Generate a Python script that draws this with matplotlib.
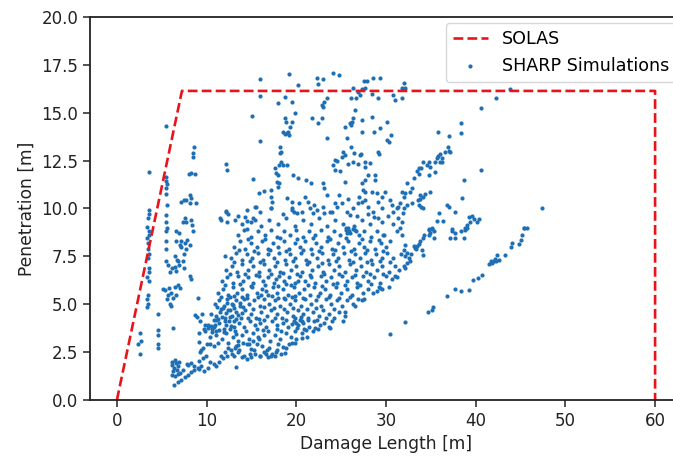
import matplotlib
matplotlib.use("Agg")
import matplotlib.pyplot as plt
import numpy as np

# SOLAS limit curve
solas_length = [0.0, 7.25, 60.0, 60.0]
solas_penetration = [0.0, 16.14, 16.14, 0.0]

# SHARP simulation points (damage length [m], penetration [m]) by region
left_columns = [
    (3.55, 11.9), (3.55, 9.9), (3.55, 9.7), (3.5, 9.5), (3.4, 9.05), (3.55, 8.8), (3.55, 8.6), (3.4, 8.45),
    (3.5, 8.2), (3.5, 7.9), (3.55, 7.6), (3.5, 7.4), (3.55, 6.9), (3.55, 6.7), (3.4, 6.4), (3.55, 6.2),
    (3.5, 5.5), (3.4, 5.25), (3.5, 5.0), (3.4, 4.85),
    (2.6, 3.5), (2.4, 2.95), (2.6, 2.4), (2.7, 3.1),
    (4.6, 4.5), (4.55, 3.65), (4.6, 3.4), (4.6, 2.95), (4.55, 2.7), (6.25, 3.75),
    (5.5, 14.3), (5.45, 11.65), (5.5, 11.45), (5.55, 11.3), (5.5, 11.05), (5.45, 10.75), (5.55, 10.2),
    (5.5, 9.65), (5.5, 9.3), (5.55, 9.0), (5.5, 8.8), (5.5, 8.3), (5.5, 7.9), (5.5, 7.25), (5.75, 7.05),
    (6.1, 6.9), (5.9, 6.7), (5.1, 5.8), (5.35, 5.75), (5.75, 5.5), (5.6, 5.3), (5.9, 5.0), (5.85, 5.85),
    (6.05, 5.6), (6.25, 5.35), (6.0, 4.9), (6.45, 5.9), (6.6, 5.5), (6.8, 6.0), (7.0, 5.85),
    (6.6, 8.8), (6.9, 8.7), (6.6, 8.3), (7.0, 8.1), (7.2, 8.0), (7.5, 7.6), (7.2, 8.3), (7.55, 8.2),
    (7.85, 8.35), (8.1, 8.1), (7.75, 7.9), (6.45, 7.5), (6.7, 7.3), (6.9, 7.05), (6.6, 6.75), (7.35, 7.25),
    (7.45, 6.9), (6.45, 6.95), (6.8, 7.25), (7.15, 10.35), (7.45, 10.45), (7.7, 10.45), (8.1, 10.7),
    (8.3, 10.55), (8.85, 10.3), (8.2, 10.3), (7.6, 9.5), (7.4, 9.3), (8.3, 9.4), (8.4, 9.15), (7.75, 9.3),
    (8.5, 8.85), (8.0, 11.8), (8.3, 11.85), (8.75, 11.8), (8.6, 13.2), (8.5, 12.9), (8.5, 12.7),
    (8.1, 6.45), (8.3, 6.3), (9.05, 5.35), (8.7, 4.45), (8.95, 4.35), (9.2, 3.05),
]

lower_band = [
    (6.4, 0.8), (6.8, 0.94), (7.2, 1.06), (7.55, 1.18), (7.9, 1.32), (8.3, 1.46), (8.65, 1.58), (9.0, 1.67),
    (9.4, 1.8), (6.1, 1.3), (6.45, 1.23), (6.8, 1.36), (6.3, 1.5), (6.7, 1.58), (7.0, 1.42), (7.4, 1.56),
    (7.8, 1.9), (6.1, 2.0), (6.5, 2.1), (6.9, 2.0), (6.15, 1.85), (6.35, 1.67), (6.6, 1.93), (6.8, 1.76),
    (7.9, 1.84), (8.3, 1.93), (8.65, 1.76), (9.2, 2.05), (9.6, 2.2), (9.95, 2.28), (10.15, 1.67), (9.7, 1.5),
    (9.1, 1.6), (9.25, 2.5), (9.6, 2.7), (10.05, 2.9), (10.35, 2.95), (9.4, 2.6), (10.4, 2.0), (10.8, 1.9),
    (11.1, 1.8), (11.4, 2.0), (11.8, 2.2), (12.3, 2.3), (12.8, 2.4), (13.2, 2.7), (13.5, 2.5), (13.3, 1.7),
    (14.0, 2.25), (14.5, 2.15), (15.0, 2.25), (15.4, 2.4), (15.9, 2.3), (16.4, 2.5), (16.9, 2.25),
    (17.3, 2.4), (17.8, 2.6), (13.5, 2.85), (14.1, 3.0), (14.7, 2.9), (15.2, 3.1), (15.7, 3.3),
    (9.8, 3.9), (10.15, 3.75), (10.5, 3.85), (10.95, 3.9), (9.8, 3.6), (9.1, 3.5), (9.7, 3.7), (10.6, 3.7),
    (11.0, 3.6), (9.3, 4.1), (9.5, 4.5),
]

core = [
    (11.6, 2.3), (12.1, 2.5), (12.7, 2.6), (13.0, 2.3), (13.6, 2.6), (14.2, 2.3), (14.8, 2.4), (15.3, 2.6),
    (15.9, 2.3), (16.6, 2.4), (17.2, 2.3), (17.7, 2.5), (18.3, 2.4), (18.9, 2.7), (13.3, 2.8), (14.5, 2.9),
    (15.6, 2.9), (16.2, 2.8), (17.0, 2.7), (18.0, 2.9), (19.2, 2.9), (10.8, 2.8), (11.3, 3.0), (12.4, 3.0),
    (19.8, 3.0),
    (10.4, 3.3), (11.0, 3.4), (11.7, 3.2), (12.2, 3.5), (12.9, 3.3), (13.5, 3.1), (14.0, 3.4), (14.7, 3.2),
    (15.2, 3.5), (15.8, 3.2), (16.4, 3.4), (17.1, 3.1), (17.6, 3.4), (18.2, 3.2), (18.8, 3.5), (19.4, 3.3),
    (20.0, 3.2), (20.6, 3.5), (21.2, 3.3), (21.9, 3.6), (13.2, 3.6), (16.9, 3.6), (19.9, 3.6),
    (10.2, 3.9), (10.8, 3.8), (11.4, 4.0), (11.9, 3.7), (12.5, 4.1), (13.0, 3.8), (13.6, 4.0), (14.2, 3.8),
    (14.8, 4.1), (15.4, 3.9), (16.0, 4.0), (16.6, 3.8), (17.3, 4.1), (17.9, 3.9), (18.5, 4.0), (19.1, 3.8),
    (19.7, 4.1), (20.2, 3.9), (20.8, 4.0), (21.4, 3.8), (22.0, 4.1), (22.6, 3.9), (23.1, 4.0), (23.6, 3.8),
    (11.1, 4.2), (12.2, 3.9), (20.0, 4.0), (20.4, 4.2), (19.5, 3.95),
    (10.5, 4.5), (11.0, 4.4), (11.5, 4.6), (12.0, 4.3), (12.4, 4.7), (12.8, 4.4), (13.3, 4.6), (13.8, 4.3),
    (14.3, 4.7), (14.9, 4.5), (15.5, 4.3), (16.1, 4.6), (16.7, 4.4), (17.2, 4.7), (17.8, 4.5), (18.4, 4.3),
    (19.0, 4.6), (19.6, 4.4), (20.2, 4.7), (20.8, 4.5), (21.3, 4.3), (21.9, 4.6), (22.5, 4.4), (23.0, 4.7),
    (23.6, 4.5), (24.2, 4.3), (24.8, 4.6), (11.8, 4.8), (13.0, 4.8), (12.2, 4.55), (11.3, 4.25),
    (10.9, 5.0), (11.4, 5.2), (11.9, 4.9), (12.3, 5.3), (12.8, 5.0), (13.3, 5.2), (13.7, 4.9), (14.2, 5.3),
    (14.7, 5.0), (15.3, 5.2), (15.9, 4.9), (16.4, 5.3), (17.0, 5.0), (17.6, 5.2), (18.2, 4.9), (18.7, 5.3),
    (19.3, 5.0), (19.9, 5.2), (20.5, 4.9), (21.0, 5.3), (21.6, 5.0), (22.2, 5.2), (22.8, 4.9), (23.3, 5.3),
    (23.9, 5.0), (24.5, 5.2), (25.1, 4.9), (25.7, 5.2), (26.3, 5.0), (26.9, 5.3), (12.6, 5.4), (13.9, 5.4),
    (11.3, 5.6), (11.8, 5.8), (12.4, 5.5), (12.9, 5.9), (13.4, 5.6), (14.0, 5.8), (14.5, 5.5), (15.1, 5.9),
    (15.6, 5.6), (16.2, 5.8), (16.8, 5.5), (17.4, 5.9), (17.9, 5.6), (18.5, 5.8), (19.1, 5.5), (19.7, 5.9),
    (20.3, 5.6), (20.9, 5.8), (21.5, 5.5), (22.0, 5.9), (22.6, 5.6), (23.2, 5.8), (23.8, 5.5), (24.4, 5.9),
    (25.0, 5.6), (25.6, 5.8), (26.2, 5.5), (26.8, 5.9), (27.4, 5.6), (28.0, 5.8), (28.6, 5.6), (29.2, 5.9),
    (11.7, 6.2), (12.3, 6.4), (12.9, 6.1), (13.5, 6.5), (14.1, 6.2), (14.6, 6.4), (15.2, 6.1), (15.8, 6.5),
    (16.3, 6.2), (16.9, 6.4), (17.5, 6.1), (18.1, 6.5), (18.6, 6.2), (19.2, 6.4), (19.8, 6.1), (20.4, 6.5),
    (21.0, 6.2), (21.6, 6.4), (22.1, 6.1), (22.7, 6.5), (23.3, 6.2), (23.9, 6.4), (24.5, 6.1), (25.1, 6.5),
    (25.6, 6.2), (26.2, 6.4), (26.8, 6.1), (27.4, 6.5), (28.0, 6.2), (28.7, 6.4), (29.3, 6.1), (30.0, 6.5),
    (30.7, 6.3),
    (12.2, 6.8), (12.8, 7.0), (13.4, 6.7), (14.0, 7.1), (14.6, 6.8), (15.2, 7.0), (15.8, 6.7), (16.4, 7.1),
    (17.0, 6.8), (17.6, 7.0), (18.2, 6.7), (18.8, 7.1), (19.4, 6.8), (20.0, 7.0), (20.6, 6.7), (21.2, 7.1),
    (21.8, 6.8), (22.4, 7.0), (23.0, 6.7), (23.6, 7.1), (24.2, 6.8), (24.8, 7.0), (25.4, 6.7), (26.0, 7.1),
    (26.6, 6.8), (27.2, 7.0), (27.8, 6.7), (28.4, 7.1), (29.0, 6.8), (29.6, 7.0), (30.3, 6.7), (31.0, 7.0),
    (12.0, 7.5), (12.7, 7.4), (13.3, 7.7), (13.9, 7.3), (14.5, 7.6), (15.1, 7.4), (15.7, 7.7), (16.3, 7.3),
    (16.9, 7.6), (17.5, 7.4), (18.1, 7.7), (18.7, 7.3), (19.3, 7.6), (19.9, 7.4), (20.5, 7.7), (21.1, 7.3),
    (21.7, 7.6), (22.3, 7.4), (22.9, 7.7), (23.5, 7.3), (24.1, 7.6), (24.7, 7.4), (25.3, 7.7), (25.9, 7.3),
    (26.5, 7.6), (27.1, 7.4), (27.7, 7.7), (28.3, 7.3), (28.9, 7.6), (29.5, 7.4), (30.1, 7.7), (30.8, 7.4),
    (13.0, 8.0), (13.7, 8.3), (14.3, 7.9), (15.0, 8.2), (15.6, 8.0), (16.2, 8.3), (16.8, 7.9), (17.4, 8.2),
    (18.0, 8.0), (18.6, 8.3), (19.2, 7.9), (19.8, 8.2), (20.4, 8.0), (21.0, 8.3), (21.6, 7.9), (22.2, 8.2),
    (22.8, 8.0), (23.4, 8.3), (24.0, 7.9), (24.6, 8.2), (25.2, 8.0), (25.8, 8.3), (26.4, 7.9), (27.0, 8.2),
    (27.6, 8.0), (28.2, 8.3), (28.8, 7.9), (29.4, 8.2), (30.0, 8.0),
    (13.5, 8.6), (14.2, 8.9), (15.0, 8.5), (15.7, 8.8), (16.5, 8.6), (17.2, 8.9), (17.9, 8.5), (18.6, 8.8),
    (19.3, 8.6), (20.0, 8.9), (20.7, 8.5), (21.4, 8.8), (22.1, 8.6), (22.8, 8.9), (23.5, 8.5), (24.2, 8.8),
    (24.9, 8.6), (25.5, 8.9), (26.0, 8.7), (26.5, 8.9), (27.0, 8.6), (27.6, 8.8), (28.3, 8.5), (29.0, 8.8),
    (29.7, 8.6),
    (13.2, 9.4), (14.0, 9.2), (15.2, 9.5), (16.1, 9.1), (17.0, 9.4), (18.0, 9.2), (18.9, 9.5), (19.8, 9.1),
    (20.7, 9.4), (21.6, 9.2), (22.5, 9.5), (23.4, 9.1), (24.3, 9.4), (25.2, 9.2), (25.8, 9.0), (26.4, 9.1),
    (27.3, 9.4), (28.2, 9.2), (29.1, 9.5),
    (25.5, 9.0), (25.9, 8.85), (26.3, 8.95), (26.7, 8.8), (25.7, 8.7),
    (12.1, 4.1), (12.6, 4.35), (13.1, 4.15), (12.9, 4.95), (13.5, 4.45), (12.3, 5.05), (11.6, 4.75),
    (13.7, 5.05), (14.0, 4.55), (12.7, 3.85), (11.9, 3.55), (13.3, 3.45),
    (17.3, 5.45), (18.0, 5.95), (18.6, 5.35), (19.4, 6.0), (17.7, 6.3), (16.6, 5.7), (19.9, 5.45), (20.2, 6.2),
    (20.1, 3.75), (20.6, 4.15), (19.8, 4.3), (20.9, 3.7), (21.3, 4.2),
    (29.5, 5.8), (29.0, 5.7), (30.3, 5.9), (31.0, 6.5), (31.5, 6.8), (30.5, 7.2), (31.7, 7.6), (32.8, 7.6),
    (33.3, 7.9), (29.8, 8.6), (30.5, 8.3), (31.2, 8.8), (30.8, 9.2), (29.5, 9.3), (30.2, 9.6),
    (12.2, 9.8), (13.5, 9.6), (14.5, 9.9), (15.4, 10.1), (16.0, 9.8), (17.2, 10.0), (18.5, 9.7), (19.5, 9.9),
    (22.3, 9.9), (24.0, 9.8), (26.8, 9.6), (28.0, 9.7), (29.5, 10.0), (27.0, 10.6), (25.8, 10.5), (24.8, 10.7),
    (22.0, 10.2), (21.0, 10.6), (20.3, 10.3), (11.5, 9.5), (12.4, 9.7),
    (17.6, 2.28), (18.7, 2.45), (19.5, 2.98), (20.6, 3.24), (22.1, 3.76), (23.75, 3.76), (25.2, 4.1),
    (25.4, 4.37), (26.5, 4.89), (27.3, 5.24), (29.3, 5.85), (31.2, 6.4),
]

core_fill = [
    (12.4, 2.7), (14.9, 2.65), (16.7, 2.6), (18.5, 2.75),
    (10.6, 3.55), (11.4, 3.65), (12.6, 3.7), (14.4, 3.6), (15.6, 3.7), (16.3, 3.65), (17.8, 3.7), (18.3, 3.6),
    (21.1, 3.65), (22.4, 3.7),
    (10.8, 4.2), (11.7, 4.35), (13.3, 4.25), (14.6, 4.3), (15.8, 4.25), (16.4, 4.2), (17.6, 4.3), (18.8, 4.2),
    (20.5, 4.35), (22.3, 4.2), (23.3, 4.3), (24.0, 4.15),
    (11.2, 4.85), (12.6, 4.7), (14.1, 4.85), (15.2, 4.75), (16.4, 4.85), (17.5, 4.8), (18.6, 4.75),
    (19.6, 4.8), (21.2, 4.75), (22.2, 4.8), (24.2, 4.75), (25.4, 4.6),
    (11.6, 5.4), (13.1, 5.45), (14.5, 5.35), (15.7, 5.4), (16.1, 5.5), (18.0, 5.35), (19.5, 5.4), (20.7, 5.35),
    (22.4, 5.45), (23.6, 5.4), (24.8, 5.35), (26.0, 5.4), (27.6, 5.3),
    (12.1, 6.0), (13.7, 6.05), (15.0, 5.95), (16.5, 6.0), (18.8, 6.05), (21.3, 6.0), (22.9, 5.95), (24.1, 6.05),
    (25.4, 6.0), (27.1, 6.0), (28.3, 6.05),
    (12.6, 6.6), (14.3, 6.6), (15.5, 6.55), (17.2, 6.6), (18.5, 6.65), (20.1, 6.6), (21.5, 6.55), (23.1, 6.6),
    (24.8, 6.6), (26.5, 6.55), (28.2, 6.6), (29.7, 6.6),
    (13.1, 7.2), (14.8, 7.25), (16.0, 7.2), (17.8, 7.2), (19.6, 7.25), (21.4, 7.2), (22.9, 7.15), (24.4, 7.25),
    (26.3, 7.2), (27.9, 7.2), (29.3, 7.25),
    (13.6, 7.85), (15.3, 7.8), (17.1, 7.85), (18.8, 7.8), (20.7, 7.85), (22.5, 7.8), (24.3, 7.85), (26.1, 7.8),
    (27.9, 7.85), (29.7, 7.8),
    (14.6, 8.4), (16.5, 8.4), (18.2, 8.45), (20.1, 8.4), (21.9, 8.45), (23.8, 8.4), (25.5, 8.45), (27.3, 8.4),
    (29.2, 8.35),
]

upper_region = [
    (15.9, 16.75), (16.0, 15.9), (15.05, 14.85), (16.0, 13.55), (12.2, 12.3), (12.3, 12.0), (15.15, 11.55),
    (15.8, 10.8), (16.45, 10.9), (15.55, 10.1), (12.2, 9.85), (12.25, 9.3), (11.55, 9.4), (14.25, 9.55),
    (14.45, 9.35), (15.0, 9.3), (15.35, 9.4), (14.45, 8.95),
    (19.18, 17.0), (24.1, 17.1), (24.75, 16.97), (22.26, 16.79), (23.0, 16.76), (27.5, 16.65), (27.84, 16.65),
    (28.6, 16.83), (29.3, 16.83), (20.2, 16.45), (22.37, 16.48), (26.35, 16.27), (26.9, 16.1), (27.3, 16.24),
    (27.65, 16.27), (27.1, 15.92), (26.7, 15.75), (28.4, 15.96), (29.1, 15.75), (30.8, 15.92), (31.0, 15.66),
    (31.74, 16.27), (18.73, 15.84), (17.99, 15.49), (19.55, 15.58), (23.38, 15.78), (23.12, 15.58),
    (22.82, 15.4), (23.0, 15.3), (26.1, 15.75), (26.54, 15.14), (19.85, 14.97), (19.47, 14.53), (19.29, 14.27),
    (19.03, 14.01), (19.18, 13.83), (18.92, 13.92), (18.73, 14.71), (18.84, 14.53), (18.55, 14.01),
    (18.73, 13.87), (21.7, 14.74), (22.45, 14.45), (22.9, 14.74), (23.38, 13.7), (25.42, 14.27), (25.98, 14.44),
    (26.24, 14.53), (26.35, 14.71), (26.1, 14.36), (27.28, 14.62), (28.4, 14.79), (29.33, 14.18), (28.7, 14.01),
    (30.07, 14.53), (30.14, 13.57), (30.33, 13.49), (30.55, 13.83), (27.28, 14.01), (25.6, 13.66), (26.1, 13.23),
    (26.46, 12.88), (27.1, 12.79), (25.42, 12.79), (25.24, 12.93), (25.05, 12.7), (24.3, 12.53), (24.5, 12.48),
    (24.1, 12.27), (24.3, 12.01), (24.86, 11.96), (25.72, 12.3), (26.35, 12.44), (26.83, 12.3), (27.2, 12.82),
    (28.2, 12.36), (28.77, 11.75), (28.77, 11.48), (29.07, 12.96), (29.22, 12.82), (18.21, 13.23),
    (18.28, 12.96), (18.17, 12.88), (18.06, 12.27), (18.25, 12.44), (18.54, 12.27), (18.92, 12.27),
    (17.62, 12.1), (17.69, 11.83), (17.91, 11.75), (17.8, 11.4), (18.06, 11.31), (17.99, 11.14), (19.66, 11.75),
    (20.22, 11.57), (21.04, 11.48), (21.63, 11.31), (17.17, 10.96), (17.17, 10.61), (17.24, 10.35),
    (17.17, 10.0), (18.92, 10.53), (19.47, 10.35), (19.47, 10.0), (19.77, 9.83), (20.03, 9.74), (21.33, 10.35),
    (21.52, 10.0), (20.59, 9.83), (21.89, 9.74), (23.0, 11.31), (23.12, 11.05), (23.38, 10.7), (23.0, 10.09),
    (23.12, 9.74), (23.75, 9.83), (24.3, 10.27), (24.5, 10.09), (25.05, 10.27), (25.6, 9.83), (25.98, 9.66),
    (26.35, 10.0), (26.9, 10.27), (27.28, 10.35), (27.65, 10.44), (28.02, 10.09), (28.58, 9.83), (28.69, 9.57),
    (28.95, 10.79), (28.4, 10.88), (27.65, 10.88), (27.47, 10.96), (25.42, 11.4), (27.65, 12.44),
    (27.65, 12.18), (28.02, 11.75), (27.65, 11.48), (27.28, 11.31), (29.14, 10.35), (29.51, 10.61),
    (29.88, 10.88), (30.44, 10.44), (31.18, 10.0), (31.37, 10.09), (31.55, 10.27), (30.63, 10.18),
    (30.81, 9.83), (31.37, 9.48), (31.93, 9.74), (31.74, 9.31), (31.55, 8.96),
]

right_region = [
    (31.97, 16.53), (32.15, 16.31), (31.78, 15.75), (43.86, 16.24), (42.3, 15.75), (40.59, 15.23),
    (38.4, 14.48), (38.4, 13.92), (35.8, 14.01), (36.98, 13.78), (36.87, 13.23), (36.98, 13.0), (36.61, 12.93),
    (37.17, 12.93), (36.06, 12.82), (35.8, 12.76), (35.68, 12.62), (36.24, 12.62), (36.06, 12.44),
    (36.24, 12.44), (35.5, 12.41), (34.75, 12.41), (34.57, 12.27), (34.94, 12.18), (34.08, 12.44),
    (33.64, 12.1), (33.9, 12.1), (33.45, 11.96), (33.71, 11.78), (33.08, 11.61), (34.75, 11.75), (35.5, 11.92),
    (40.59, 12.01), (38.66, 11.48), (32.34, 11.31), (32.9, 11.08), (32.71, 10.88), (32.15, 10.79),
    (31.97, 10.61), (31.78, 10.88), (33.82, 10.7), (34.08, 10.61), (34.31, 10.74), (33.82, 10.49),
    (33.56, 10.44), (32.9, 10.27), (32.34, 10.18), (31.97, 10.0), (33.64, 10.18), (33.94, 10.09), (34.08, 10.0),
    (34.86, 10.88), (38.47, 10.56), (36.8, 10.18), (36.98, 10.09), (37.65, 9.83), (35.87, 9.74), (35.68, 9.34),
    (36.32, 9.34), (39.21, 9.57), (39.59, 9.62), (39.77, 9.45), (39.4, 9.31), (40.33, 9.45), (40.14, 9.31),
    (39.03, 9.14), (38.84, 8.96), (47.4, 10.0), (45.35, 8.96), (45.72, 8.99), (34.75, 8.93), (35.1, 8.93),
    (37.4, 8.93),
    (31.78, 8.63), (32.15, 8.11), (31.97, 7.85), (32.34, 7.67), (32.15, 7.5), (32.52, 7.41), (32.71, 7.24),
    (31.97, 6.98), (32.15, 6.89), (32.34, 7.15), (33.08, 8.02), (33.45, 8.02), (33.27, 7.93), (33.64, 8.15),
    (33.82, 8.28), (34.08, 8.46), (34.2, 8.63), (34.01, 7.85), (34.08, 7.59), (34.75, 8.89), (34.94, 8.72),
    (35.31, 8.81), (34.75, 8.6), (35.31, 8.46), (35.1, 8.98), (37.17, 8.46), (37.73, 8.46), (38.66, 8.46),
    (37.36, 8.81), (37.73, 8.72), (38.4, 8.81), (38.84, 8.89), (39.03, 8.98),
    (45.35, 8.98), (45.16, 8.6), (45.09, 8.37), (44.79, 8.15), (44.05, 8.2), (43.97, 7.97), (43.3, 7.59),
    (42.37, 7.59), (42.19, 7.38), (42.0, 7.28), (41.82, 7.15), (41.52, 7.1), (41.74, 7.24), (42.26, 7.24),
    (42.56, 7.33), (40.7, 6.54), (40.26, 6.37), (39.7, 6.28), (39.21, 5.76), (38.4, 5.67), (37.73, 5.81),
    (36.8, 5.41), (35.2, 4.84), (35.1, 4.72), (34.68, 4.6), (32.15, 4.05), (30.45, 3.45),
]

all_points = left_columns + lower_band + core + core_fill + upper_region + right_region
damage_length = np.array([p[0] for p in all_points])
penetration = np.array([p[1] for p in all_points])

fig = plt.figure(figsize=(6.73, 4.59), dpi=100)
ax = fig.add_axes([90 / 673, 59 / 459, 592 / 673, 383 / 459])

ax.plot(solas_length, solas_penetration, color="#e8141b", linestyle="--", linewidth=1.9, label="SOLAS")
ax.scatter(damage_length, penetration, s=9, color="#1f6fb4", linewidths=0, label="SHARP Simulations")

ax.set_xlim(-3, 63)
ax.set_ylim(0, 20)
ax.set_xticks([0, 10, 20, 30, 40, 50, 60])
ax.set_yticks([0, 2.5, 5, 7.5, 10, 12.5, 15, 17.5, 20])
ax.set_yticklabels(["0.0", "2.5", "5.0", "7.5", "10.0", "12.5", "15.0", "17.5", "20.0"])
ax.tick_params(labelsize=12, length=5, width=1.1, colors="#222222")
for sp in ax.spines.values():
    sp.set_linewidth(1.3)
    sp.set_color("#222222")
ax.set_xlabel("Damage Length [m]", fontsize=12.3, color="#222222")
ax.set_ylabel("Penetration [m]", fontsize=12.3, color="#222222")
leg = ax.legend(loc="upper right", fontsize=12.6, markerscale=1.0, borderaxespad=0.35)

fig.savefig("out.png", dpi=100)
